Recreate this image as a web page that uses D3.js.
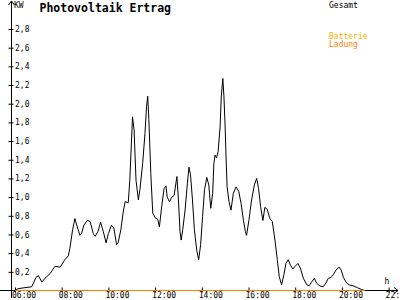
<!DOCTYPE html>
<html>
<head>
<meta charset="utf-8">
<script src="https://cdn.jsdelivr.net/npm/d3@7"></script>
<style>
  body { margin: 0; background: #fff; }
  svg { display: block; }
  text { font-family: "DejaVu Sans Mono", monospace; font-size: 8px; fill: #000; }
</style>
</head>
<body>
<div id="chart"></div>
<script>
// data
var times = ["06:00","06:08","06:43","06:54","07:00","07:09","07:17","07:30","07:43","07:56","08:08","08:17","08:21","08:28","08:34","08:40","08:47","08:51","08:57","09:06","09:13","09:21","09:26","09:33","09:40","09:47","09:54","10:00","10:08","10:14","10:21","10:25","10:32","10:38","10:43","10:51","10:55","11:02","11:06","11:11","11:17","11:21","11:28","11:34","11:38","11:41","11:44","11:49","11:54","12:00","12:07","12:11","12:17","12:23","12:28","12:31","12:37","12:43","12:49","12:56","13:00","13:04","13:07","13:11","13:17","13:23","13:27","13:31","13:36","13:41","13:47","13:52","13:57","14:02","14:07","14:13","14:18","14:23","14:28","14:31","14:34","14:38","14:42","14:47","14:50","14:54","14:57","15:00","15:02","15:05","15:10","15:15","15:21","15:28","15:35","15:41","15:47","15:52","15:55","16:01","16:08","16:15","16:21","16:26","16:31","16:37","16:42","16:48","16:55","17:01","17:08","17:14","17:19","17:25","17:31","17:36","17:42","17:48","17:54","18:00","18:07","18:14","18:21","18:30","18:36","18:42","18:49","18:55","19:02","19:12","19:19","19:25","19:32","19:38","19:45","19:53","19:58","20:04","20:12","20:19","20:29","20:40","20:51","20:59"];
var gesamt = [0,0.02,0.04,0.14,0.16,0.09,0.13,0.18,0.26,0.25,0.33,0.37,0.45,0.65,0.77,0.68,0.59,0.61,0.70,0.75,0.74,0.61,0.58,0.63,0.73,0.63,0.51,0.61,0.70,0.67,0.49,0.51,0.65,0.84,0.95,0.94,1.18,1.86,1.72,1.18,0.97,1.08,1.36,1.68,1.97,2.08,1.83,1.25,0.83,0.78,0.76,0.68,0.90,1.09,1.12,1.00,0.95,1.00,1.02,1.22,0.97,0.63,0.54,0.65,0.86,1.15,1.32,1.24,0.97,0.65,0.43,0.33,0.49,0.79,1.08,1.21,1.13,0.88,1.04,1.36,1.45,1.42,1.49,1.75,2.07,2.27,2.07,1.75,1.47,1.11,0.95,0.86,1.04,1.11,1.06,0.93,0.75,0.63,0.59,0.75,0.97,1.13,1.20,1.09,0.90,0.75,0.89,0.87,0.77,0.74,0.54,0.33,0.15,0.06,0.17,0.29,0.33,0.27,0.23,0.26,0.29,0.23,0.13,0.06,0.05,0.09,0.13,0.08,0.05,0.04,0.08,0.13,0.14,0.17,0.22,0.25,0.22,0.14,0.08,0.06,0.05,0.03,0.01,0];
var ladungTimes = ["06:00","20:59"];
var ladung = [0, 0];
var xTickHours = [6, 8, 10, 12, 14, 16, 18, 20, 22];
var xTickLabels = ["06:00","08:00","10:00","12:00","14:00","16:00","18:00","20:00","22:"];
var yTickValues = [0.2,0.4,0.6,0.8,1.0,1.2,1.4,1.6,1.8,2.0,2.2,2.4,2.6,2.8];

var svgWidth = 400;
var svgHeight = 300;

var svg = d3.select("#chart")
  .append("svg")
  .attr("width", svgWidth)
  .attr("height", svgHeight);

// time "HH:MM" -> hours
function toHours(s) {
  var p = s.split(":");
  return +p[0] + (+p[1]) / 60;
}

var xScale = d3.scaleLinear().domain([6, 22]).range([15, 388.6]);
var yScale = d3.scaleLinear().domain([0, 2.8]).range([290.5, 29]);

var axisX = 11.5;
var axisY = 290.5;

// y axis ticks + labels
var leftAxis = d3.axisLeft(yScale)
  .tickValues(yTickValues)
  .tickSize(0)
  .tickFormat(d => d3.format(".1f")(d).replace(".", ","));

var yAxisG = svg.append("g")
  .attr("transform", `translate(${axisX},0)`)
  .call(leftAxis);
yAxisG.select(".domain").remove();
yAxisG.selectAll(".tick line")
  .attr("x1", -3).attr("x2", 2)
  .attr("stroke", "#000");
yAxisG.selectAll(".tick text")
  .attr("x", 3.5)
  .attr("dy", "0.32em")
  .attr("text-anchor", "start")
  .attr("font-family", null)
  .attr("font-size", null)
  .style("fill", "#000");

// x axis ticks + labels
var bottomAxis = d3.axisBottom(xScale)
  .tickValues(xTickHours)
  .tickSize(0)
  .tickFormat((d, i) => xTickLabels[i]);

var xAxisG = svg.append("g")
  .attr("transform", `translate(0,${axisY})`)
  .call(bottomAxis);
xAxisG.select(".domain").remove();
xAxisG.selectAll(".tick line")
  .attr("y1", -3).attr("y2", 2)
  .attr("stroke", "#000");
xAxisG.selectAll(".tick text")
  .attr("x", -3.5)
  .attr("y", 7.5)
  .attr("dy", null)
  .attr("text-anchor", "start")
  .attr("font-family", null)
  .attr("font-size", null)
  .style("fill", "#000");

// axis lines with arrows
svg.append("path")
  .attr("d", `M${axisX},298 V1 M${axisX - 3},5 L${axisX},1 L${axisX + 3},5`)
  .attr("fill", "none")
  .attr("stroke", "#000")
  .attr("stroke-width", 1);

svg.append("path")
  .attr("d", `M0,${axisY} H398 M394,${axisY - 3} L398,${axisY} L394,${axisY + 3}`)
  .attr("fill", "none")
  .attr("stroke", "#000")
  .attr("stroke-width", 1);

// series
var gesamtData = times.map((t, i) => ({ h: toHours(t), v: gesamt[i] }));
var ladungData = ladungTimes.map((t, i) => ({ h: toHours(t), v: ladung[i] }));

var line = d3.line()
  .x(d => xScale(d.h))
  .y(d => yScale(d.v));

svg.append("path")
  .datum(gesamtData)
  .attr("d", line)
  .attr("fill", "none")
  .attr("stroke", "#000")
  .attr("stroke-width", 1);

svg.append("path")
  .datum(ladungData)
  .attr("d", line)
  .attr("fill", "none")
  .attr("stroke", "#ff8000")
  .attr("stroke-width", 1.2);

// labels
svg.append("text")
  .attr("x", 14)
  .attr("y", 8)
  .text("KW");

svg.append("text")
  .attr("x", 384.5)
  .attr("y", 284)
  .text("h");

svg.append("text")
  .attr("x", 39.5)
  .attr("y", 11.5)
  .style("font-size", "11.5px")
  .style("font-weight", "bold")
  .text("Photovoltaik Ertrag");

// legend
svg.append("text")
  .attr("x", 329)
  .attr("y", 7.5)
  .text("Gesamt");

svg.append("text")
  .attr("x", 329)
  .attr("y", 38.5)
  .style("fill", "#ffb000")
  .text("Batterie");

svg.append("text")
  .attr("x", 329)
  .attr("y", 47)
  .style("fill", "#ff8000")
  .text("Ladung");
</script>
</body>
</html>
